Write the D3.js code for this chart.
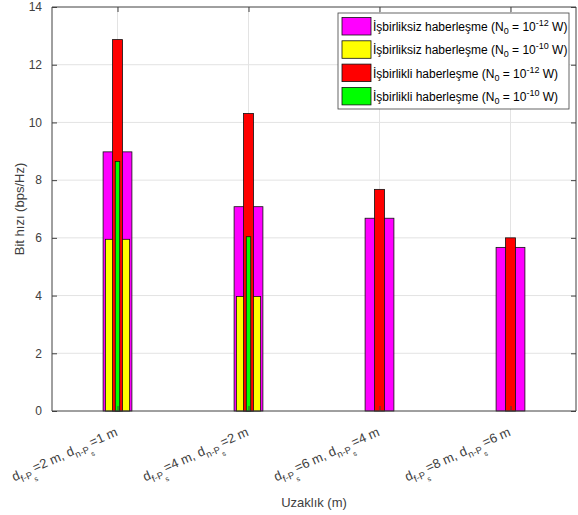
<!DOCTYPE html>
<html>
<head>
<meta charset="utf-8">
<script src="https://cdn.jsdelivr.net/npm/d3@7"></script>
<style>
  body { margin: 0; background: #fff; }
  svg { font-family: "Liberation Sans", Arial, sans-serif; }
</style>
</head>
<body>
<svg id="chart" width="578" height="515"></svg>
<script>
// distances (category labels): [first subscript value, second subscript value]
const categories = [['2', '1'], ['4', '2'], ['6', '4'], ['8', '6']]
const yTicks = [0, 2, 4, 6, 8, 10, 12, 14]

const noncoopLow = [8.98, 7.08, 6.68, 5.67]   // N0 = 1e-12
const noncoopHigh = [5.95, 3.97, 0, 0]        // N0 = 1e-10
const coopLow = [12.87, 10.31, 7.68, 6.0]     // N0 = 1e-12
const coopHigh = [8.65, 6.04, 0, 0]           // N0 = 1e-10

const series = [
  { name: 'İşbirliksiz haberleşme', exp: '-12', values: noncoopLow, color: '#ff00ff', width: 0.22 },
  { name: 'İşbirliksiz haberleşme', exp: '-10', values: noncoopHigh, color: '#ffff00', width: 0.185 },
  { name: 'İşbirlikli haberleşme', exp: '-12', values: coopLow, color: '#ff0000', width: 0.076 },
  { name: 'İşbirlikli haberleşme', exp: '-10', values: coopHigh, color: '#00ff00', width: 0.034 }
]

const margin = { left: 52, right: 2, top: 7, bottom: 104 }
const w = 578
const h = 515
const svg = d3.select('#chart')

const x = d3.scaleLinear().domain([0.5, 4.5]).range([margin.left, w - margin.right])
const y = d3.scaleLinear().domain([0, 14]).range([h - margin.bottom, margin.top])

const axisColor = '#404040'
const gridColor = '#e3e3e3'

// grid
svg.append('g').selectAll('line.hg')
  .data(yTicks.slice(1, -1))
  .enter().append('line')
  .attr('x1', x(0.5)).attr('x2', x(4.5))
  .attr('y1', d => y(d)).attr('y2', d => y(d))
  .attr('stroke', gridColor)
svg.append('g').selectAll('line.vg')
  .data(d3.range(1, 5))
  .enter().append('line')
  .attr('x1', d => x(d)).attr('x2', d => x(d))
  .attr('y1', y(0)).attr('y2', y(14))
  .attr('stroke', gridColor)

// bars
series.forEach(s => {
  svg.append('g').selectAll('rect')
    .data(s.values.map((v, i) => ({ v, i })).filter(d => d.v > 0))
    .enter().append('rect')
    .attr('x', d => x(d.i + 1 - s.width / 2))
    .attr('width', d => x(d.i + 1 + s.width / 2) - x(d.i + 1 - s.width / 2))
    .attr('y', d => y(d.v))
    .attr('height', d => y(0) - y(d.v))
    .attr('fill', s.color)
    .attr('stroke', '#111')
    .attr('stroke-width', 0.8)
})

// axes
const yAxis = d3.axisLeft(y).tickValues(yTicks).tickSize(-5).tickPadding(10)
const yAxisR = d3.axisRight(y).tickValues(yTicks).tickSize(-5).tickFormat('')
const xAxisB = d3.axisBottom(x).tickValues(d3.range(1, 5)).tickSize(-5).tickFormat('')
const xAxisT = d3.axisTop(x).tickValues(d3.range(1, 5)).tickSize(-5).tickFormat('')

function styleAxis(g) {
  g.selectAll('path').attr('stroke', axisColor)
  g.selectAll('line').attr('stroke', axisColor)
  g.selectAll('text').attr('fill', axisColor).style('font-size', '12px')
    .style('font-family', '"Liberation Sans", Arial, sans-serif')
}

svg.append('g').attr('transform', 'translate(' + x(0.5) + ',0)').call(yAxis).call(styleAxis)
  .selectAll('path').attr('d', 'M0,' + y(0) + 'V' + y(14))
svg.append('g').attr('transform', 'translate(' + x(4.5) + ',0)').call(yAxisR).call(styleAxis)
  .selectAll('path').attr('d', 'M0,' + y(0) + 'V' + y(14))
svg.append('g').attr('transform', 'translate(0,' + y(0) + ')').call(xAxisB).call(styleAxis)
  .selectAll('path').attr('d', 'M' + x(0.5) + ',0H' + x(4.5))
svg.append('g').attr('transform', 'translate(0,' + y(14) + ')').call(xAxisT).call(styleAxis)
  .selectAll('path').attr('d', 'M' + x(0.5) + ',0H' + x(4.5))

// rotated category labels
const lab = svg.append('g').selectAll('text')
  .data(categories)
  .enter().append('text')
  .attr('transform', (d, i) => 'translate(' + (x(i + 1) + 1) + ',' + (y(0) + 24) + ') rotate(-24)')
  .attr('text-anchor', 'end')
  .attr('fill', axisColor)
  .style('font-size', '13px')

lab.each(function (d) {
  const t = d3.select(this)
  const parts = [
    ['d', 0, 13], ['f-P', 4, 9.5], ['s', 5, 7], ['=' + d[0] + ' m, d', -9, 13],
    ['n-P', 4, 9.5], ['s', 5, 7], ['=' + d[1] + ' m', -9, 13]
  ]
  parts.forEach(p => {
    t.append('tspan').attr('dy', p[1]).style('font-size', p[2] + 'px').text(p[0])
  })
})

// axis titles
svg.append('text')
  .attr('x', (x(0.5) + x(4.5)) / 2)
  .attr('y', 507)
  .attr('text-anchor', 'middle')
  .attr('fill', axisColor)
  .style('font-size', '13px')
  .text('Uzaklık (m)')

svg.append('text')
  .attr('transform', 'translate(24,' + (y(7)) + ') rotate(-90)')
  .attr('text-anchor', 'middle')
  .attr('fill', axisColor)
  .style('font-size', '13px')
  .text('Bit hızı (bps/Hz)')

// legend
const legend = svg.append('g').attr('transform', 'translate(338,13)')
legend.append('rect')
  .attr('width', 231).attr('height', 96)
  .attr('fill', '#fff').attr('stroke', axisColor).attr('stroke-width', 0.8)

const item = legend.selectAll('g.item')
  .data(series)
  .enter().append('g')
  .attr('transform', (d, i) => 'translate(4,' + (4.5 + i * 23.3) + ')')

item.append('rect')
  .attr('width', 29).attr('height', 17.5)
  .attr('fill', d => d.color)
  .attr('stroke', '#111').attr('stroke-width', 0.8)

const lt = item.append('text')
  .attr('x', 31).attr('y', 13.5)
  .attr('fill', '#000')
  .style('font-size', '12px')

lt.each(function (d) {
  const t = d3.select(this)
  t.append('tspan').text(d.name + ' (N')
  t.append('tspan').attr('dy', 3).style('font-size', '9px').text('0')
  t.append('tspan').attr('dy', -3).text(' = 10')
  t.append('tspan').attr('dy', -5).style('font-size', '9px').text(d.exp)
  t.append('tspan').attr('dy', 5).text(' W)')
})
</script>
</body>
</html>
